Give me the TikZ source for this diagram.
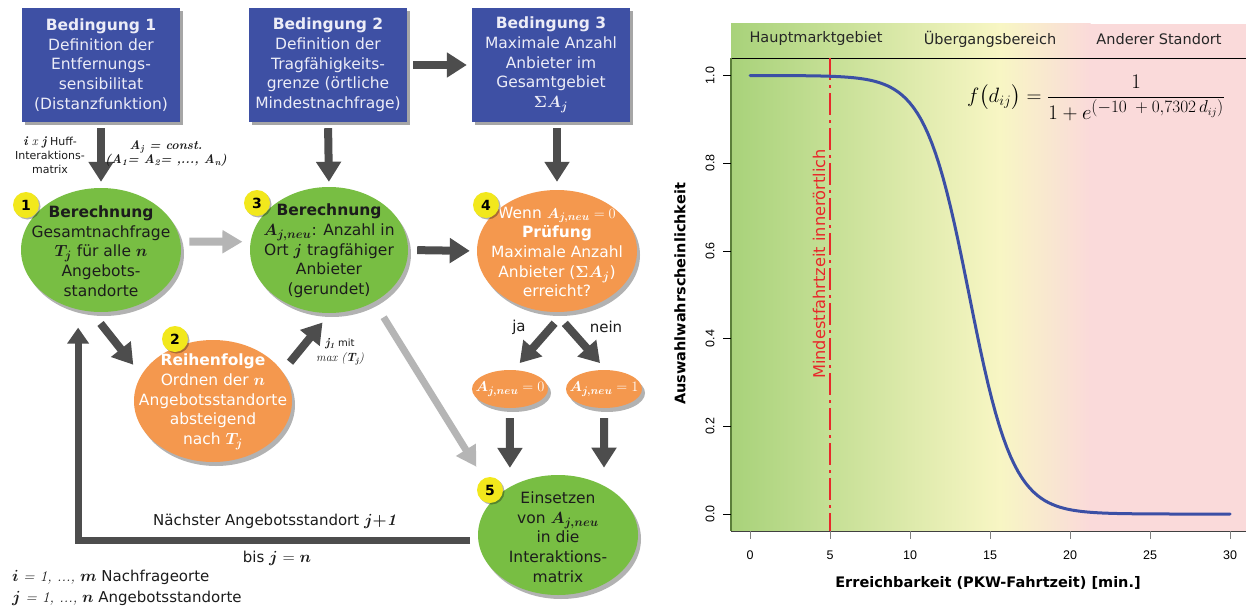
\documentclass[tikz,border=0pt]{standalone}
\usepackage[no-math]{fontspec}
\usepackage{amsmath}
\usepackage{bm}
\newfontfamily\dvs{DejaVu Sans}
\newfontfamily\libs{Liberation Sans}
\usetikzlibrary{arrows.meta,shapes.geometric,shadows}
\newcommand\fsz[2]{\fontsize{#1}{#2}\selectfont}
\newcommand\bmm[1]{\scalebox{1.12}{$\bm{#1}$}}
\newcommand\bit[1]{{\rmfamily\bfseries\itshape #1}}
\definecolor{boxblue}{HTML}{3E50A4}
\definecolor{boxtext}{HTML}{ECECF7}
\definecolor{egreen}{HTML}{78BE43}
\definecolor{eorange}{HTML}{F4984E}
\definecolor{byellow}{HTML}{F2E81C}
\definecolor{dgray}{HTML}{4D4D4D}
\definecolor{lgray}{HTML}{B5B5B5}
\definecolor{darktext}{HTML}{1C1C1C}
\definecolor{cgreen}{HTML}{A8D27A}
\definecolor{cyellow}{HTML}{F8F6C4}
\definecolor{cpink}{HTML}{FADADA}
\definecolor{cblue}{HTML}{3B4FA5}
\definecolor{cred}{HTML}{E8282B}
\definecolor{axgreen}{HTML}{5B7F3A}
\begin{document}
\begin{tikzpicture}[x=1pt,y=-1pt,
  every node/.style={font=\dvs},
  bbox/.style={fill=boxblue, text=boxtext, minimum width=158pt, minimum height=114pt, inner sep=0pt, align=center, font=\dvs\fsz{15.5}{19.7},
    drop shadow={shadow xshift=3pt,shadow yshift=-3pt,opacity=0.35,fill=black}},
  ellbase/.style={ellipse, inner sep=0pt, drop shadow={shadow xshift=3pt,shadow yshift=-4pt,opacity=0.3,fill=black}},
  gell/.style={ellbase, fill=egreen},
  oell/.style={ellbase, fill=eorange},
  etext/.style={align=center, inner sep=0pt, font=\dvs\fsz{15.5}{19.7}, text=darktext},
  wtext/.style={etext, text=white},
  badge/.style={circle, fill=byellow, minimum size=26pt, inner sep=0pt, font=\dvs\bfseries\fsz{14}{14},
    drop shadow={shadow xshift=1.5pt,shadow yshift=-1.5pt,opacity=0.3,fill=black}},
  darrow/.style={draw=dgray, line width=8pt, -{Triangle[width=24pt,length=20pt]}},
  garrow/.style={draw=lgray, line width=8pt, -{Triangle[width=22pt,length=20pt]}},
  looparrow/.style={draw=dgray, line width=7pt, -{Triangle[width=21pt,length=16pt]}},
  small/.style={font=\dvs\fsz{11}{14}, align=center, inner sep=0pt, text=darktext},
  lbl/.style={font=\dvs\fsz{15}{15}, inner sep=0pt, text=darktext},
  hlabel/.style={font=\dvs\fsz{14.5}{14.5}, text=black!85, inner sep=0pt},
  ticklbl/.style={font=\libs\fsz{12.5}{12.5}, inner sep=0pt},
  axtitle/.style={font=\dvs\bfseries\fsz{14.5}{14.5}, inner sep=0pt}
]
\fill[white] (0,0) rectangle (1246,610);
\useasboundingbox (0,0) rectangle (1246,610);

% ---------- conditions ----------
\node[bbox] (b1) at (101,65) {\textbf{Bedingung 1}\\Definition der\\Entfernungs-\\sensibilitat\\(Distanzfunktion)};
\node[bbox] (b2) at (328,65) {\textbf{Bedingung 2}\\Definition der\\Tragfähigkeits-\\grenze (örtliche\\Mindestnachfrage)};
\node[bbox] (b3) at (551,65) {\textbf{Bedingung 3}\\Maximale Anzahl\\Anbieter im\\Gesamtgebiet\\\bmm{\Sigma A_j}};

% ---------- ellipses ----------
\node[gell, minimum width=160pt, minimum height=124pt] (e1) at (101,250) {};
\node[etext] (t1) at (101,251) {\textbf{Berechnung}\\Gesamtnachfrage\\\bmm{T_j} für alle \bmm{n}\\Angebots-\\standorte};
\node[gell, minimum width=158pt, minimum height=126pt] (e3) at (329,250) {};
\node[etext] (t3) at (329,251) {\textbf{Berechnung}\\\bmm{A_{j,neu}}: Anzahl in\\Ort \bmm{j} tragfähiger\\Anbieter\\(gerundet)};
\node[oell, minimum width=160pt, minimum height=122pt] (e4) at (557,251) {};
\node[wtext] (t4) at (557,252) {Wenn $\bm{A_{j,neu}} = 0$\\\textbf{Prüfung}\\Maximale Anzahl\\Anbieter (\bmm{\Sigma A_j})\\erreicht?};
\node[oell, minimum width=158pt, minimum height=122pt] (e2) at (213,401) {};
\node[wtext] (t2) at (213,402) {\textbf{Reihenfolge}\\Ordnen der \bmm{n}\\Angebotsstandorte\\absteigend\\nach \bmm{T_j}};
\node[gell, minimum width=160pt, minimum height=120pt] (e5) at (558,535) {};
\node[etext] (t5) at (558,537) {Einsetzen\\von \bmm{A_{j,neu}}\\in die\\Interaktions-\\matrix};
\node[oell, minimum width=76pt, minimum height=38pt] (s0) at (510,389) {};
\node[wtext] (ts0) at (510,389) {$\bm{A_{j,neu}} = 0$};
\node[oell, minimum width=76pt, minimum height=38pt] (s1) at (604,389) {};
\node[wtext] (ts1) at (604,389) {$\bm{A_{j,neu}} = 1$};

% ---------- badges ----------
\node[badge] (n1) at (26,205) {1};
\node[badge] (n2) at (175,339) {2};
\node[badge] (n3) at (257,203) {3};
\node[badge] (n4) at (486,205) {4};
\node[badge] (n5) at (490,490) {5};

% ---------- connectors ----------
\draw[darrow, shorten <=6pt, shorten >=6pt] (b1.south) -- (e1.north);
\draw[darrow, shorten <=6pt, shorten >=5pt] (b2.south) -- (e3.north);
\draw[darrow, shorten <=6pt, shorten >=8pt] (b3.south -| e4.north) -- (e4.north);
\draw[darrow, shorten <=6pt, shorten >=5pt] (b2.east) -- (b3.west);
\draw[darrow, shorten <=9pt, shorten >=7pt] (e3.east) -- (e4.west);
\draw[darrow, shorten <=15pt, shorten >=13pt] (e1.-99) -- (e2.160);
\draw[darrow, shorten <=12pt, shorten >=12pt] (e2.23) -- (e3.-89);
\draw[darrow, shorten <=15pt, shorten >=9pt] (e4.-83) -- (s0.79);
\draw[darrow, shorten <=15pt, shorten >=9pt] (e4.-92) -- (s1.84);
\draw[darrow, shorten <=10pt, shorten >=19pt] (s0.south) -- (e5.135);
\draw[darrow, shorten <=10pt, shorten >=18pt] (s1.south) -- (e5.47);
\draw[garrow, shorten <=9pt, shorten >=8pt] (e1.6) -- (e3.174);
\draw[garrow, line width=7pt, shorten <=18pt, shorten >=36pt] (e3.-49) -- (e5.149);
\draw[looparrow, shorten <=8pt, shorten >=18pt] (e5.184) -| (e1.-111);

% ---------- labels ----------
\node[small] (lhuff) at (50,155) {{\fsz{13}{14}\bit{i} {\rmfamily\itshape x} \bit{j}} Huff-\\Interaktions-\\matrix};
\node[small, font=\rmfamily\bfseries\itshape\fsz{12.5}{14}] (lconst) at (166,154) {A\textsubscript{j} = const.\\(A\textsubscript{1}= A\textsubscript{2}= ,..., A\textsubscript{n})};
\node[small, font=\dvs\fsz{10}{15}] (lmax) at (340,352) {{\fsz{12}{12}\bit{j\textsubscript{1}}} mit\\{\rmfamily\itshape\fsz{12}{12}max (\textbf{T\textsubscript{j}})}};
\node[lbl] (lja) at (519,327) {ja};
\node[lbl] (lnein) at (606,327) {nein};
\node[lbl, anchor=west] (lnext) at (153,521) {Nächster Angebotsstandort \bmm{j{+}\mathit{1}}};
\node[lbl] (lbis) at (277,558) {bis \bmm{j} \scalebox{1.12}{$=$} \bmm{n}};
\node[lbl, anchor=west] (leg1) at (12,577) {\bmm{i} {\rmfamily\itshape = 1, ...,} \bmm{m} Nachfrageorte};
\node[lbl, anchor=west] (leg2) at (12,598) {\bmm{j} {\rmfamily\itshape = 1, ...,} \bmm{n} Angebotsstandorte};

% ---------- chart ----------
\shade[left color=cgreen, right color=cyellow] (731,24) rectangle (1000.5,531);
\shade[left color=cyellow, right color=cpink] (1000,24) rectangle (1090.5,531);
\fill[cpink] (1090,24) rectangle (1246,531);
\draw[black, line width=0.9pt] (731,58) -- (1246,58);
\node[hlabel] (hm) at (816,39) {Hauptmarktgebiet};
\node[hlabel] (hu) at (990,39) {Übergangsbereich};
\node[hlabel] (ha) at (1159,39) {Anderer Standort};

\draw[axgreen, line width=1.5pt] (731,58) -- (731,531);
\draw[black!75, line width=1pt] (731,531) -- (1246,531);
\foreach \p/\l in {0/0.0,0.2/0.2,0.4/0.4,0.6/0.6,0.8/0.8,1/1.0} {
  \draw[black, line width=0.8pt] (723,{514-438.5*\p}) -- (731,{514-438.5*\p});
  \node[ticklbl, rotate=90] at (710,{514-438.5*\p}) {\l};
}
\foreach \t in {0,5,...,30} {
  \draw[black!50, line width=1pt] ({750+16*\t},531) -- ({750+16*\t},539);
  \node[ticklbl] at ({750+16*\t},555) {\t};
}
\node[axtitle, rotate=90] (ytitle) at (680,294) {Auswahlwahrscheinlichkeit};
\node[axtitle] (xtitle) at (988,583) {Erreichbarkeit (PKW-Fahrtzeit) [min.]};

\draw[cred, line width=2.5pt, dash pattern=on 22pt off 5pt on 3pt off 5pt] (830,58) -- (830,531);
\node[rotate=90, text=cred, font=\dvs\fsz{16.2}{16.2}, inner sep=0pt] (mf) at (819,264) {Mindestfahrtzeit innerörtlich};

\draw[cblue, line width=3pt, line join=round, line cap=round]
  plot[domain=0:13.69, samples=60] ({750+16*\x}, {514-438.5/(1+exp(-10+0.7302*\x))})
  -- plot[domain=13.69:30, samples=70] ({750+16*\x}, {514-438.5*exp(10-0.7302*\x)/(1+exp(10-0.7302*\x))});

\node[inner sep=0pt, font=\fsz{22}{22}] (fx) at (1096,98) {$f\bigl(d_{ij}\bigr) = \dfrac{1}{1+e^{\mbox{\fsz{16}{16}$(-10\;+0{,}7302\,d_{ij})$}}}$};
\end{tikzpicture}
\end{document}
